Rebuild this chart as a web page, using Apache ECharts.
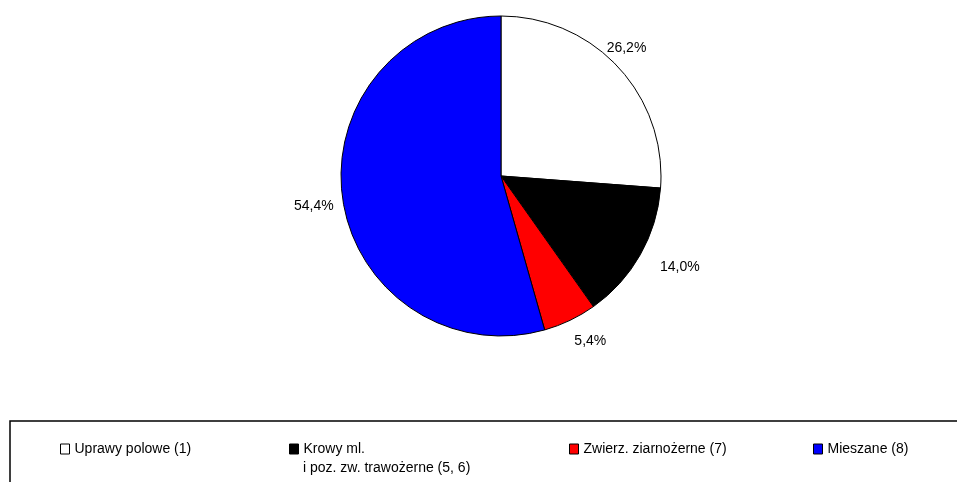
<!DOCTYPE html>
<html>
<head>
<meta charset="utf-8">
<script src="https://cdn.jsdelivr.net/npm/echarts@6/dist/echarts.min.js"></script>
<style>
  html, body { margin: 0; padding: 0; background: #fff; }
  #chart { width: 957px; height: 482px; }
</style>
</head>
<body>
<div id="chart"></div>
<script>
// dane
var categories = ['Uprawy polowe (1)', 'Krowy ml.\ni poz. zw. trawożerne (5, 6)', 'Zwierz. ziarnożerne (7)', 'Mieszane (8)'];
var shares = [26.2, 14.0, 5.4, 54.4];
var colors = ['#ffffff', '#000000', '#ff0000', '#0000ff'];

// uklad
var legendLeft = [60, 289, 569, 813];
var labelOffsets = [[-24, -12], [6, 7], [-5, 12], [6, 7]];
var FONT = '"Liberation Sans Narrow", "Liberation Sans", Arial, sans-serif';

var myChart = echarts.init(document.getElementById('chart'));

var legends = categories.map(function (name, i) {
  return {
    data: [name],
    left: legendLeft[i],
    top: 442,
    padding: 0,
    icon: 'rect',
    itemWidth: 9,
    itemHeight: 10,
    selectedMode: false,
    itemStyle: { borderColor: '#000', borderWidth: 1 },
    formatter: function (n) { return n.split('\n')[0]; },
    textStyle: { fontFamily: FONT, fontSize: 14, color: '#000' }
  };
});

// druga linia legendy (wieloliniowe nazwy)
var extraLines = [];
categories.forEach(function (name, i) {
  var parts = name.split('\n');
  if (parts.length > 1) {
    extraLines.push({
      type: 'text',
      left: legendLeft[i] + 14,
      top: 461,
      style: { text: parts.slice(1).join('\n'), fill: '#000', font: '14px ' + FONT }
    });
  }
});

var option = {
  backgroundColor: '#fff',
  animation: false,
  color: colors,
  legend: legends,
  graphic: [{
    type: 'rect',
    shape: { x: 10, y: 421, width: 960, height: 100 },
    style: { fill: 'none', stroke: '#000', lineWidth: 1.5 },
    z: -1
  }].concat(extraLines),
  series: [{
    type: 'pie',
    center: [501, 176],
    radius: 160,
    startAngle: 90,
    clockwise: true,
    itemStyle: { borderColor: '#000', borderWidth: 1 },
    emphasis: { disabled: true },
    label: {
      show: true,
      position: 'outside',
      fontFamily: FONT,
      fontSize: 14,
      color: '#000',
      formatter: function (p) {
        return p.value.toFixed(1).replace('.', ',') + '%';
      }
    },
    labelLine: { show: false, length: 10, length2: 0 },
    data: categories.map(function (c, i) {
      return { name: c, value: shares[i], label: { offset: labelOffsets[i] } };
    })
  }]
};

myChart.setOption(option);
</script>
</body>
</html>
